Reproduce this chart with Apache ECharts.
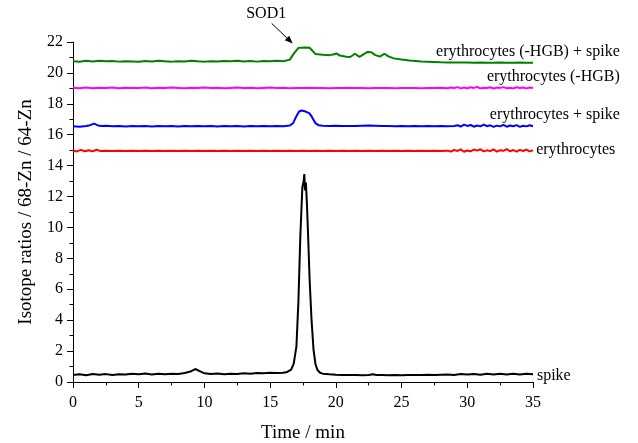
<!DOCTYPE html>
<html>
<head>
<meta charset="utf-8">
<script src="https://cdn.jsdelivr.net/npm/echarts@6/dist/echarts.min.js"></script>
<style>
  html, body { margin: 0; padding: 0; background: #fff; }
  #chart { width: 638px; height: 443px; }
</style>
</head>
<body>
<div id="chart"></div>
<script>
// [time (min), ratio]
const spike = [[0,0.46],[0.5,0.5],[1,0.44],[1.5,0.52],[2,0.47],[2.5,0.51],[3,0.45],[3.5,0.5],[4,0.48],[4.5,0.53],[5,0.5],[5.5,0.55],[6,0.49],[6.5,0.53],[7,0.5],[7.5,0.54],[8,0.52],[8.5,0.58],[9,0.7],[9.3,0.84],[9.6,0.72],[10,0.56],[10.5,0.52],[11,0.55],[11.5,0.5],[12,0.54],[12.5,0.52],[13,0.57],[13.5,0.54],[14,0.58],[14.5,0.56],[15,0.6],[15.5,0.58],[16,0.6],[16.3,0.65],[16.6,0.8],[16.8,1.2],[17,2.3],[17.15,5.2],[17.3,9.5],[17.45,12.6],[17.55,13.0],[17.6,13.45],[17.65,12.4],[17.72,12.9],[17.8,11.5],[17.9,9.2],[18,6.7],[18.15,4.0],[18.3,2.1],[18.45,1.15],[18.6,0.78],[18.8,0.6],[19,0.54],[19.5,0.5],[20,0.47],[20.5,0.46],[21,0.45],[21.5,0.45],[22,0.44],[22.5,0.46],[22.8,0.5],[23.1,0.45],[23.5,0.45],[24,0.44],[24.5,0.45],[25,0.44],[25.5,0.46],[26,0.45],[26.5,0.46],[27,0.47],[27.5,0.45],[28,0.47],[28.5,0.49],[29,0.46],[29.5,0.52],[30,0.48],[30.5,0.52],[31,0.47],[31.5,0.53],[32,0.49],[32.5,0.54],[33,0.48],[33.5,0.53],[34,0.49],[34.5,0.54],[35,0.5]];

const erythrocytes = [[0,14.98],[0.3,14.92],[0.6,15.02],[0.9,14.93],[1.2,15.0],[1.5,14.92],[1.8,15.03],[2.1,14.94],[2.5,14.97],[3,14.95],[3.5,14.97],[4,14.94],[4.5,14.96],[5,14.95],[5.5,14.97],[6,14.94],[6.5,14.96],[7,14.95],[7.5,14.97],[8,14.94],[8.5,14.96],[9,14.95],[9.5,14.97],[10,14.95],[10.5,14.96],[11,14.94],[11.5,14.97],[12,14.95],[12.5,14.96],[13,14.94],[13.5,14.96],[14,14.95],[14.5,14.97],[15,14.95],[15.5,14.96],[16,14.94],[16.5,14.96],[17,14.95],[17.5,14.97],[18,14.95],[18.5,14.96],[19,14.94],[19.5,14.96],[20,14.95],[20.5,14.96],[21,14.94],[21.5,14.96],[22,14.95],[22.5,14.96],[23,14.94],[23.5,14.96],[24,14.95],[24.5,14.96],[25,14.94],[25.5,14.96],[26,14.95],[26.5,14.96],[27,14.94],[27.5,14.96],[28,14.95],[28.5,14.97],[28.75,14.91],[29,15.01],[29.25,14.95],[29.5,15.05],[29.75,14.9],[30,14.98],[30.25,14.93],[30.5,15.04],[30.75,14.97],[31,15.06],[31.25,14.92],[31.5,14.99],[31.75,14.94],[32,15.05],[32.25,14.91],[32.5,15.0],[32.75,14.96],[33,15.07],[33.25,14.93],[33.5,15.01],[33.75,14.9],[34,15.02],[34.25,14.95],[34.5,15.04],[34.75,14.92],[35,14.99]];

const erythrocytesSpike = [[0,16.55],[0.5,16.52],[1,16.57],[1.3,16.62],[1.6,16.72],[1.9,16.6],[2.2,16.56],[2.5,16.58],[3,16.55],[3.5,16.57],[4,16.54],[4.5,16.56],[5,16.55],[5.5,16.57],[6,16.54],[6.5,16.56],[7,16.55],[7.5,16.57],[8,16.54],[8.5,16.56],[9,16.55],[9.5,16.57],[10,16.55],[10.5,16.56],[11,16.54],[11.5,16.57],[12,16.55],[12.5,16.56],[13,16.54],[13.5,16.56],[14,16.55],[14.5,16.57],[15,16.55],[15.5,16.56],[16,16.55],[16.5,16.6],[16.75,16.75],[17,17.2],[17.2,17.5],[17.4,17.57],[17.7,17.5],[18,17.38],[18.2,17.12],[18.45,16.75],[18.7,16.61],[19,16.58],[19.5,16.57],[20,16.58],[20.5,16.56],[21,16.57],[21.5,16.56],[22,16.58],[22.5,16.6],[23,16.58],[23.5,16.56],[24,16.57],[24.5,16.55],[25,16.56],[25.5,16.55],[26,16.57],[26.5,16.55],[27,16.56],[27.5,16.55],[28,16.57],[28.5,16.55],[29,16.57],[29.25,16.61],[29.5,16.53],[29.75,16.65],[30,16.57],[30.25,16.63],[30.5,16.52],[30.75,16.6],[31,16.54],[31.25,16.66],[31.5,16.55],[31.75,16.61],[32,16.51],[32.25,16.59],[32.5,16.54],[32.75,16.64],[33,16.52],[33.25,16.6],[33.5,16.55],[33.75,16.62],[34,16.51],[34.25,16.58],[34.5,16.54],[34.75,16.61],[35,16.55]];

const erythrocytesNoHgb = [[0,19.04],[0.5,19.01],[1,19.05],[1.5,19.0],[2,19.04],[2.5,19.02],[3,19.05],[3.5,19.01],[4,19.04],[4.5,19.02],[5,19.03],[5.5,19.05],[6,19.01],[6.5,19.04],[7,19.02],[7.5,19.05],[8,19.03],[8.5,19.01],[9,19.04],[9.5,19.02],[10,19.05],[10.5,19.02],[11,19.04],[11.5,19.01],[12,19.03],[12.5,19.05],[13,19.02],[13.5,19.04],[14,19.01],[14.5,19.03],[15,19.05],[15.5,19.02],[16,19.04],[16.5,19.01],[17,19.03],[17.5,19.02],[18,19.04],[18.5,19.02],[19,19.03],[19.5,19.01],[20,19.03],[20.5,19.02],[21,19.04],[21.5,19.02],[22,19.03],[22.5,19.01],[23,19.03],[23.5,19.02],[24,19.03],[24.5,19.01],[25,19.03],[25.5,19.02],[26,19.03],[26.5,19.01],[27,19.03],[27.5,19.02],[28,19.04],[28.5,19.01],[28.75,19.06],[29,19.02],[29.25,19.08],[29.5,19.0],[29.75,19.05],[30,19.01],[30.25,19.07],[30.5,19.03],[30.75,19.09],[31,19.0],[31.25,19.04],[31.5,19.02],[31.75,19.07],[32,18.99],[32.25,19.05],[32.5,19.03],[32.75,19.08],[33,19.01],[33.25,19.04],[33.5,19.0],[33.75,19.07],[34,19.02],[34.25,19.06],[34.5,19.0],[34.75,19.05],[35,19.02]];

const erythrocytesNoHgbSpike = [[0,20.76],[0.5,20.72],[1,20.78],[1.5,20.74],[2,20.79],[2.5,20.75],[3,20.77],[3.5,20.73],[4,20.76],[4.5,20.74],[5,20.72],[5.5,20.77],[6,20.74],[6.5,20.78],[7,20.75],[7.5,20.73],[8,20.76],[8.5,20.74],[9,20.79],[9.5,20.75],[10,20.73],[10.5,20.76],[11,20.74],[11.5,20.77],[12,20.75],[12.5,20.78],[13,20.74],[13.5,20.77],[14,20.73],[14.5,20.77],[15,20.75],[15.5,20.78],[16,20.76],[16.5,20.86],[16.8,21.25],[17.15,21.62],[17.6,21.65],[18,21.63],[18.2,21.45],[18.45,21.22],[19,21.18],[19.5,21.15],[19.8,21.19],[20.05,21.26],[20.3,21.12],[20.8,21.04],[21.1,21.03],[21.45,21.24],[21.8,21.04],[22.1,21.2],[22.4,21.36],[22.7,21.34],[23,21.15],[23.35,21.06],[23.7,21.24],[24,21.07],[24.4,20.94],[25,20.87],[25.6,20.81],[26.5,20.74],[27.4,20.71],[28,20.69],[28.5,20.68],[29,20.68],[29.5,20.67],[30,20.67],[30.5,20.66],[31,20.67],[31.5,20.66],[32,20.66],[32.5,20.67],[33,20.66],[33.5,20.66],[34,20.67],[34.5,20.66],[35,20.66]];

const seriesNames = ['spike', 'erythrocytes', 'erythrocytes + spike', 'erythrocytes (-HGB)', 'erythrocytes (-HGB) + spike'];
const seriesData = [spike, erythrocytes, erythrocytesSpike, erythrocytesNoHgb, erythrocytesNoHgbSpike];
const seriesColors = ['#000000', '#ff0000', '#0000ff', '#ff00ff', '#008000'];

// where each trace's name sits, in axis units: [time, ratio, align]
const labelAnchors = [[35.3, 0.4, 'left'], [35.24, 15.02, 'left'], [41.6, 17.3, 'right'], [41.6, 19.74, 'right'], [41.6, 21.36, 'right']];
const sodText = [14.7, 23.85];
const sodArrow = [[15.12, 23.2], [16.72, 21.9]];

const font = '"Liberation Serif", "Times New Roman", Times, serif';
const chart = echarts.init(document.getElementById('chart'));

chart.setOption({
    animation: false,
    backgroundColor: '#fff',
    grid: { left: 73, right: 105, top: 42, bottom: 61, containLabel: false, outerBoundsMode: 'none' },
    xAxis: {
        type: 'value',
        min: 0,
        max: 35,
        interval: 5,
        name: 'Time / min',
        nameLocation: 'middle',
        nameGap: 42,
        nameTextStyle: { fontFamily: font, fontSize: 19, color: '#000' },
        axisLine: { show: true, lineStyle: { color: '#000', width: 1 } },
        axisTick: { show: true, inside: false, length: 6, lineStyle: { color: '#000' } },
        minorTick: { show: true, splitNumber: 2, length: 3.5, lineStyle: { color: '#000' } },
        axisLabel: { fontFamily: font, fontSize: 16, color: '#000', margin: 13 },
        splitLine: { show: false }
    },
    yAxis: {
        type: 'value',
        min: 0,
        max: 22,
        interval: 2,
        name: 'Isotope ratios / 68-Zn / 64-Zn',
        nameLocation: 'middle',
        nameGap: 37,
        nameTextStyle: { fontFamily: font, fontSize: 19, color: '#000' },
        axisLine: { show: true, lineStyle: { color: '#000', width: 1 } },
        axisTick: { show: true, inside: false, length: 6, lineStyle: { color: '#000' } },
        minorTick: { show: true, splitNumber: 2, length: 3.5, lineStyle: { color: '#000' } },
        axisLabel: { fontFamily: font, fontSize: 16, color: '#000', margin: 10 },
        splitLine: { show: false }
    },
    series: seriesData.map((d, i) => ({
        name: seriesNames[i],
        type: 'line',
        data: d,
        showSymbol: false,
        symbol: 'none',
        clip: false,
        lineStyle: { color: seriesColors[i], width: 2 },
        z: 2 + i
    }))
});

// text labels and the SOD1 arrow, placed through the axes
const px = p => chart.convertToPixel({ gridIndex: 0 }, [p[0], p[1]]);
const graphics = labelAnchors.map((a, i) => {
    const p = px(a);
    return {
        type: 'text',
        x: p[0],
        y: p[1],
        style: { text: seriesNames[i], fontFamily: font, fontSize: 16, fill: '#000', align: a[2], verticalAlign: 'middle' }
    };
});
const sp = px(sodText);
graphics.push({
    type: 'text', x: sp[0], y: sp[1],
    style: { text: 'SOD1', fontFamily: font, fontSize: 16, fill: '#000', align: 'center', verticalAlign: 'middle' }
});
const a0 = px(sodArrow[0]);
const a1 = px(sodArrow[1]);
const ang = Math.atan2(a1[1] - a0[1], a1[0] - a0[0]);
const headLen = 8, headHalf = 3.2;
const bx = a1[0] - headLen * Math.cos(ang), by = a1[1] - headLen * Math.sin(ang);
graphics.push({
    type: 'line',
    shape: { x1: a0[0], y1: a0[1], x2: bx, y2: by },
    style: { stroke: '#000', lineWidth: 1 }
});
graphics.push({
    type: 'polygon',
    shape: { points: [
        [a1[0], a1[1]],
        [bx + headHalf * Math.sin(ang), by - headHalf * Math.cos(ang)],
        [bx - headHalf * Math.sin(ang), by + headHalf * Math.cos(ang)]
    ] },
    style: { fill: '#000' }
});
chart.setOption({ graphic: graphics });
</script>
</body>
</html>
